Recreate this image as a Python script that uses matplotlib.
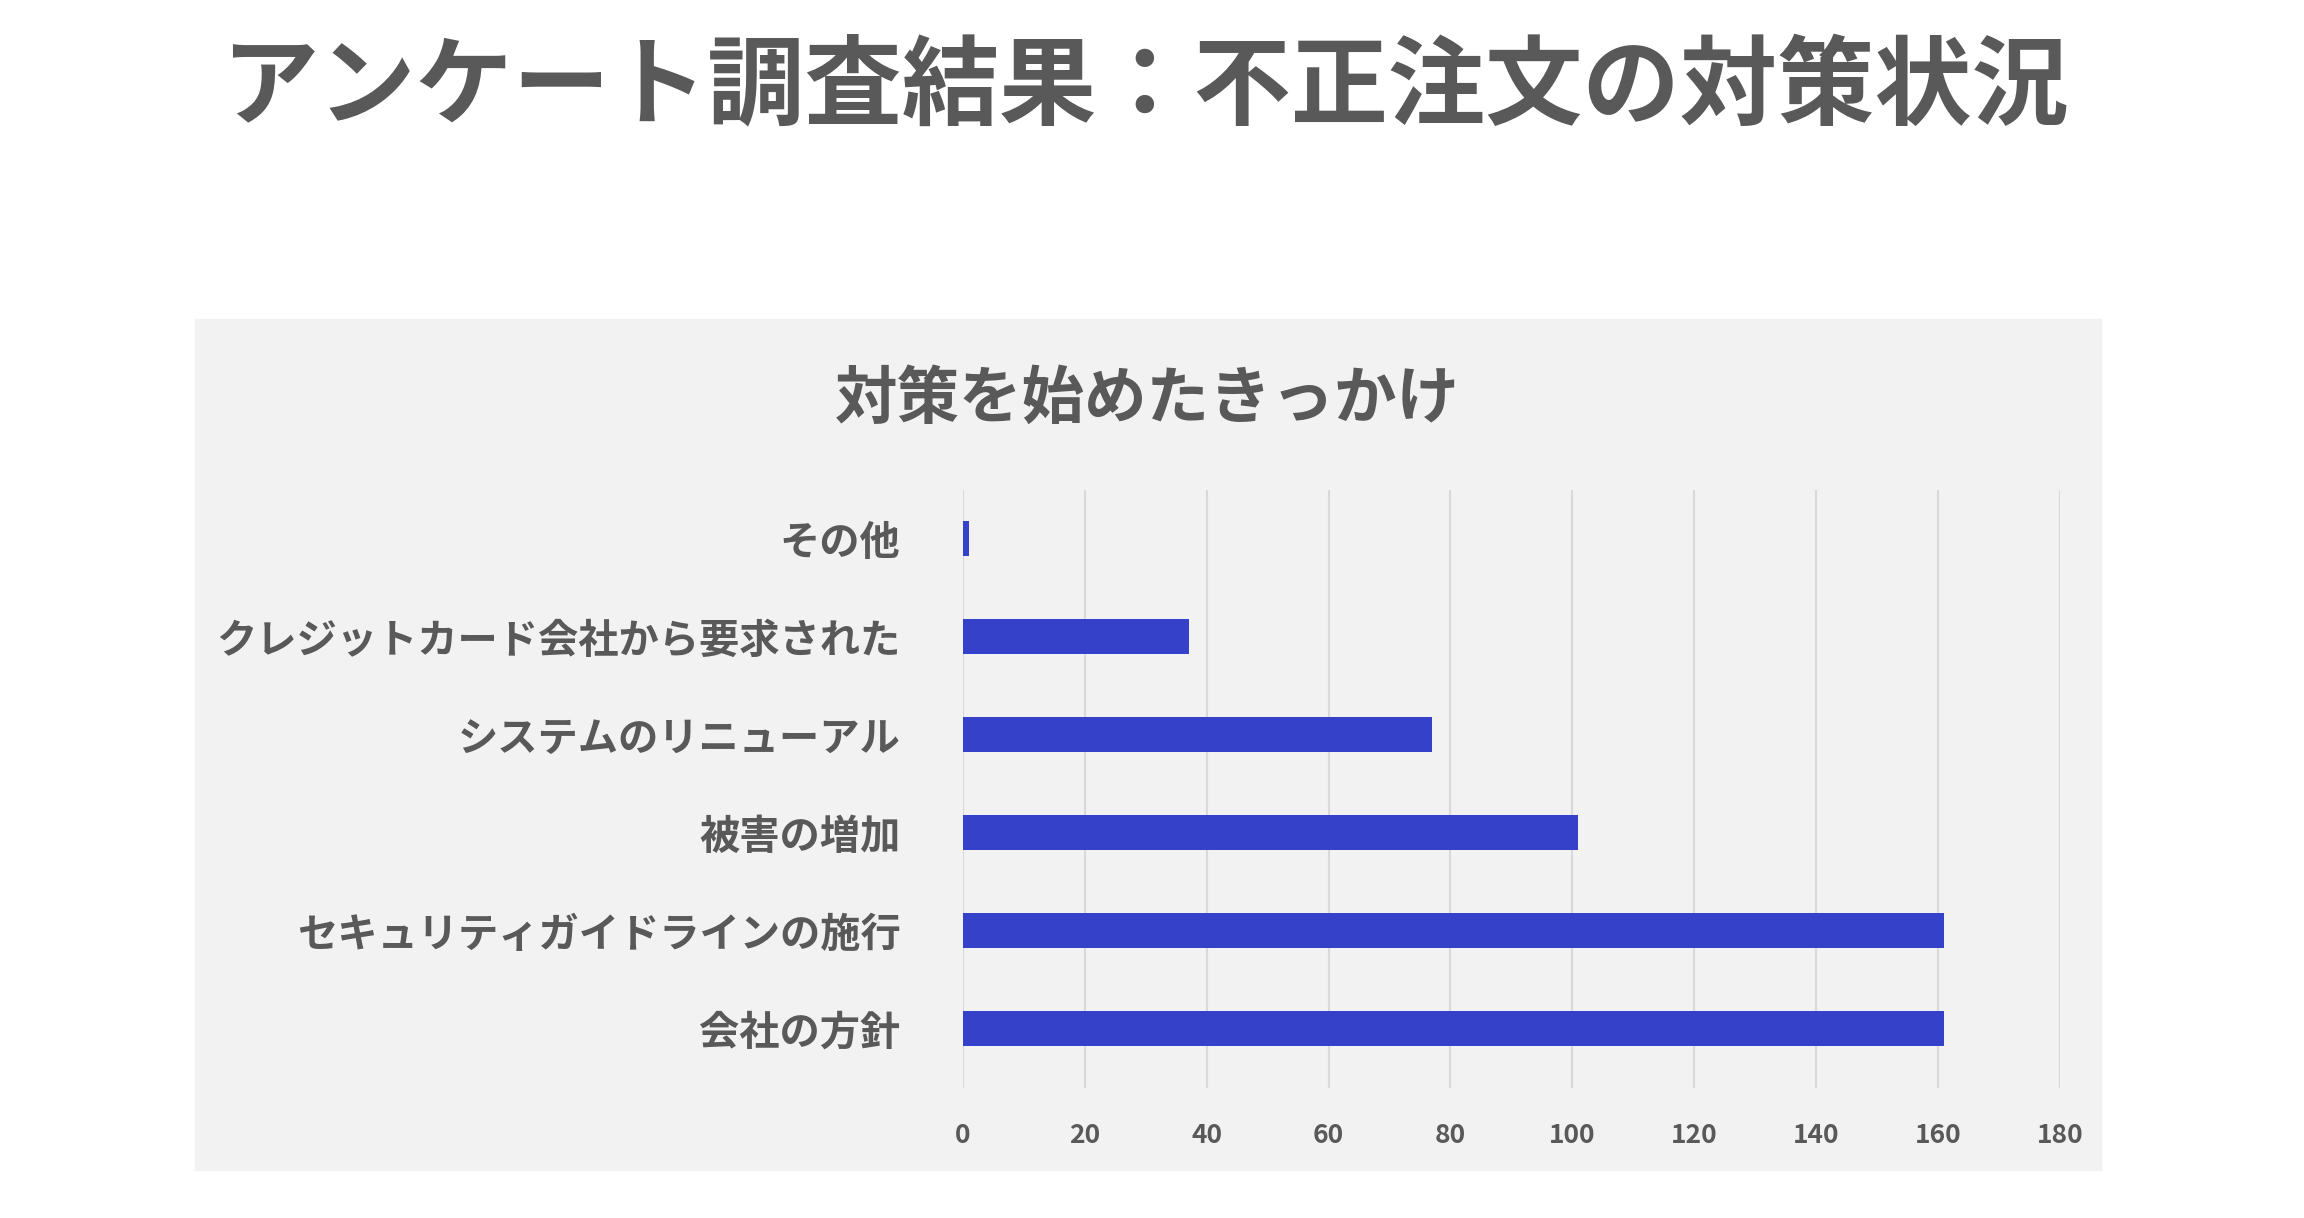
import matplotlib.pyplot as plt
from matplotlib.patches import Rectangle

plt.rcParams['font.family'] = ['Noto Sans CJK JP', 'DejaVu Sans']

categories = ['会社の方針', 'セキュリティガイドラインの施行', '被害の増加',
              'システムのリニューアル', 'クレジットカード会社から要求された', 'その他']
values = [161, 161, 101, 77, 37, 1]
ticks = [0, 20, 40, 60, 80, 100, 120, 140, 160, 180]

txt = '#595959'
fig = plt.figure(figsize=(23.04, 12.18), dpi=100)
fig.patches.append(Rectangle((0.0848, 0.039), 0.912 - 0.0848, 0.738 - 0.039,
                             transform=fig.transFigure, color='#f2f2f2', zorder=-10))
fig.text(0.497, 0.928, 'アンケート調査結果：不正注文の対策状況', ha='center', va='center',
         fontsize=70, fontweight='bold', color=txt)
fig.text(0.498, 0.672, '対策を始めたきっかけ', ha='center', va='center',
         fontsize=45, fontweight='bold', color=txt)

ax = fig.add_axes([0.418, 0.107, 0.894 - 0.418, 0.598 - 0.107])
ax.set_zorder(5)
ax.set_facecolor('none')
ax.barh(range(len(categories)), values, height=0.36, color='#3441c8', zorder=3)
ax.set_xlim(0, 180)
ax.set_ylim(-0.6, len(categories) - 0.5)
ax.set_xticks(ticks)
ax.set_yticks(range(len(categories)))
ax.set_yticklabels(categories)
ax.grid(axis='x', color='#d9d9d9', linewidth=1.5, zorder=0)
for s in ax.spines.values():
    s.set_visible(False)
ax.tick_params(length=0)
ax.tick_params(axis='y', labelsize=29, colors=txt, pad=45)
ax.tick_params(axis='x', labelsize=19, colors=txt, pad=25)
for lbl in ax.get_xticklabels() + ax.get_yticklabels():
    lbl.set_fontweight('bold')

fig.savefig('out.png', dpi=100)
